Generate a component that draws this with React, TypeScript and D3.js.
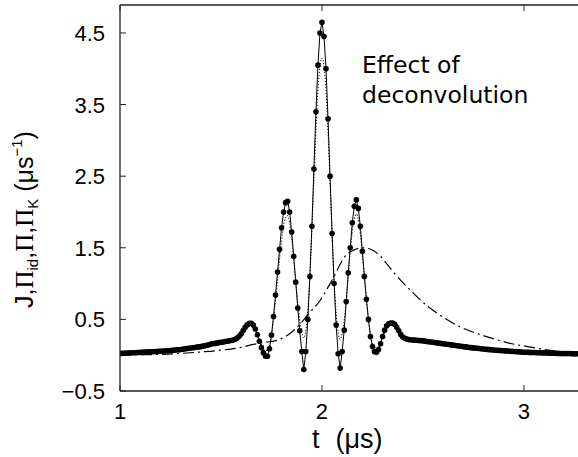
import React from "react";
import * as d3 from "d3";

// ---- data ----
const xTicks = [1, 2, 3];
const yTicks = [-0.5, 0.5, 1.5, 2.5, 3.5, 4.5];
const xTickLabels = ["1", "2", "3"];
const yTickLabels = ["\u22120.5", "0.5", "1.5", "2.5", "3.5", "4.5"];

// J(t), sampled every 0.01 µs from t = 1.00
const jStart = 1.0;
const jStep = 0.01;
const jValues = [
  0.025, 0.026, 0.028, 0.029, 0.031, 0.032, 0.034, 0.035, 0.037, 0.038,
  0.040, 0.041, 0.043, 0.044, 0.046, 0.047, 0.049, 0.050, 0.052, 0.053,
  0.055, 0.057, 0.059, 0.061, 0.063, 0.065, 0.068, 0.071, 0.074, 0.077,
  0.080, 0.084, 0.088, 0.092, 0.096, 0.100, 0.104, 0.108, 0.112, 0.116,
  0.120, 0.126, 0.132, 0.138, 0.146, 0.155, 0.160, 0.165, 0.170, 0.175,
  0.180, 0.185, 0.190, 0.195, 0.200, 0.205, 0.212, 0.222, 0.240, 0.265,
  0.300, 0.345, 0.390, 0.425, 0.445, 0.445, 0.420, 0.365, 0.285, 0.195,
  0.105, 0.035, -0.010, -0.015, 0.090, 0.280, 0.540, 0.840, 1.160, 1.480,
  1.780, 2.000, 2.130, 2.150, 2.000, 1.720, 1.380, 1.020, 0.660, 0.340,
  0.050, -0.200, 0.050, 0.500, 1.100, 1.800, 2.600, 3.400, 4.050, 4.500,
  4.650, 4.450, 4.000, 3.300, 2.500, 1.700, 1.000, 0.420, 0.020, -0.180,
  0.050, 0.350, 0.750, 1.150, 1.500, 1.850, 2.080, 2.170, 2.050, 1.800,
  1.450, 1.100, 0.780, 0.500, 0.260, 0.120, 0.050, 0.040, 0.080, 0.160,
  0.260, 0.350, 0.410, 0.440, 0.450, 0.450, 0.430, 0.390, 0.340, 0.290,
  0.255, 0.235, 0.225, 0.218, 0.214, 0.212, 0.210, 0.208, 0.206, 0.204,
  0.200, 0.196, 0.192, 0.188, 0.184, 0.180, 0.176, 0.172, 0.168, 0.164,
  0.160, 0.156, 0.152, 0.148, 0.144, 0.140, 0.136, 0.132, 0.128, 0.124,
  0.120, 0.116, 0.112, 0.108, 0.105, 0.102, 0.099, 0.096, 0.093, 0.090,
  0.087, 0.084, 0.081, 0.078, 0.075, 0.072, 0.070, 0.068, 0.066, 0.064,
  0.062, 0.060, 0.058, 0.056, 0.054, 0.052, 0.050, 0.048, 0.046, 0.044,
  0.042, 0.041, 0.040, 0.039, 0.038, 0.037, 0.036, 0.035, 0.034, 0.033,
  0.032, 0.031, 0.030, 0.029, 0.028, 0.027, 0.026, 0.025, 0.024, 0.024,
  0.023, 0.023, 0.022, 0.022, 0.021, 0.021, 0.020, 0.020,
];

// dotted curve
const dotT = [
  1.0, 1.2, 1.4, 1.5, 1.55, 1.6, 1.63, 1.65, 1.67, 1.7, 1.72, 1.74, 1.76, 1.78,
  1.8, 1.82, 1.83, 1.84, 1.86, 1.88, 1.9, 1.91, 1.92, 1.94, 1.96, 1.98, 2.0,
  2.02, 2.04, 2.06, 2.08, 2.09, 2.1, 2.12, 2.14, 2.16, 2.17, 2.18, 2.2, 2.22,
  2.24, 2.26, 2.28, 2.3, 2.33, 2.35, 2.38, 2.42, 2.5, 2.7, 3.0, 3.27,
];
const dotV = [
  0.02, 0.05, 0.11, 0.17, 0.2, 0.28, 0.38, 0.41, 0.36, 0.15, 0.06, 0.12, 0.5,
  1.05, 1.6, 1.92, 1.95, 1.85, 1.35, 0.75, 0.32, 0.24, 0.35, 1.1, 2.45, 3.7,
  4.15, 3.7, 2.4, 1.05, 0.32, 0.22, 0.3, 0.75, 1.45, 1.9, 1.97, 1.9, 1.4, 0.78,
  0.3, 0.1, 0.12, 0.25, 0.4, 0.42, 0.34, 0.22, 0.19, 0.115, 0.04, 0.02,
];

// dash-dot curve
const ddT = [
  1.0, 1.1, 1.2, 1.3, 1.4, 1.5, 1.6, 1.66, 1.72, 1.78, 1.84, 1.89, 1.94, 1.99,
  2.03, 2.06, 2.09, 2.12, 2.16, 2.2, 2.24, 2.28, 2.32, 2.36, 2.44, 2.52, 2.6,
  2.68, 2.76, 2.85, 2.94, 3.02, 3.1, 3.18, 3.27,
];
const ddV = [
  0.0, 0.005, 0.012, 0.025, 0.045, 0.07, 0.11, 0.15, 0.18, 0.21, 0.3, 0.43, 0.6,
  0.76, 0.95, 1.1, 1.27, 1.4, 1.47, 1.5, 1.48, 1.41, 1.28, 1.14, 0.9, 0.69,
  0.53, 0.4, 0.31, 0.23, 0.16, 0.12, 0.08, 0.05, 0.03,
];

const W = 578;
const H = 457;

export default function App() {
  const left = 120;
  const top = 5;
  const bottom = 391;
  const x = d3.scaleLinear().domain([1, 3.27]).range([left, 578.5]);
  const y = d3.scaleLinear().domain([-0.5, 4.89]).range([bottom, top]);

  const jPts: [number, number][] = jValues.map((v, i) => [jStart + i * jStep, v]);
  const dotPts: [number, number][] = dotT.map((t, i) => [t, dotV[i]]);
  const ddPts: [number, number][] = ddT.map((t, i) => [t, ddV[i]]);

  const lin = d3
    .line<[number, number]>()
    .x((d) => x(d[0]))
    .y((d) => y(d[1]));
  const smooth = d3
    .line<[number, number]>()
    .x((d) => x(d[0]))
    .y((d) => y(d[1]))
    .curve(d3.curveMonotoneX);

  const axisColor = "#222";
  const tickFont = "'Liberation Sans', Arial, sans-serif";

  return (
    <svg
      width={W}
      height={H}
      style={{ position: "absolute", left: 0, top: 0, background: "#fff" }}
    >
      <defs>
        <clipPath id="plot">
          <rect x={left} y={top} width={W - left} height={bottom - top} />
        </clipPath>
      </defs>
      <rect x={0} y={0} width={W} height={H} fill="#fff" />

      <g clipPath="url(#plot)">
        <path
          d={smooth(ddPts) || ""}
          fill="none"
          stroke="#000"
          strokeWidth={1.2}
          strokeDasharray="11,4,2,4"
        />
        <path
          d={smooth(dotPts) || ""}
          fill="none"
          stroke="#000"
          strokeWidth={1}
          strokeDasharray="1.2,1.8"
        />
        <path d={lin(jPts) || ""} fill="none" stroke="#000" strokeWidth={1} />
        {jPts.map((d, i) => (
          <circle key={i} cx={x(d[0])} cy={y(d[1])} r={2.8} fill="#000" />
        ))}
      </g>

      {/* axes frame */}
      <line x1={left} y1={top} x2={left} y2={bottom} stroke={axisColor} strokeWidth={1.3} />
      <line x1={left} y1={bottom} x2={W} y2={bottom} stroke={axisColor} strokeWidth={1.3} />
      <line x1={left} y1={top} x2={W} y2={top} stroke={axisColor} strokeWidth={1.3} />

      {/* x ticks */}
      {xTicks.map((t, i) => (
        <g key={"xt" + i}>
          <line x1={x(t)} x2={x(t)} y1={bottom} y2={bottom - 6} stroke={axisColor} strokeWidth={1} />
          <line x1={x(t)} x2={x(t)} y1={top} y2={top + 6} stroke={axisColor} strokeWidth={1} />
          <text
            x={x(t)}
            y={419}
            textAnchor="middle"
            fontFamily={tickFont}
            fontSize={22}
            fill="#000"
          >
            {xTickLabels[i]}
          </text>
        </g>
      ))}

      {/* y ticks */}
      {yTicks.map((t, i) => (
        <g key={"yt" + i}>
          <line x1={left} x2={left + 6} y1={y(t)} y2={y(t)} stroke={axisColor} strokeWidth={1} />
          <text
            x={105}
            y={y(t) + 8}
            textAnchor="end"
            fontFamily={tickFont}
            fontSize={22}
            fill="#000"
          >
            {yTickLabels[i]}
          </text>
        </g>
      ))}

      {/* x label */}
      <text x={312} y={448} fontFamily={tickFont} fontSize={27} fill="#000">
        <tspan>t</tspan>
        <tspan dx={16}>(μs)</tspan>
      </text>

      {/* y label */}
      <text
        transform="translate(33,308) rotate(-90)"
        fontFamily={tickFont}
        fontSize={25}
        fill="#000"
      >
        <tspan>J,</tspan>
        <tspan fontFamily="'Liberation Serif', serif">Π</tspan>
        <tspan fontSize={15} dy={5}>id</tspan>
        <tspan dy={-5}>,</tspan>
        <tspan fontFamily="'Liberation Serif', serif">Π</tspan>
        <tspan>,</tspan>
        <tspan fontFamily="'Liberation Serif', serif">Π</tspan>
        <tspan fontSize={15} dy={5}>K</tspan>
        <tspan dy={-5}> (μs</tspan>
        <tspan fontSize={15} dy={-11}>−1</tspan>
        <tspan dy={11}>)</tspan>
      </text>

      {/* annotation */}
      <text x={362} y={73} fontFamily="'DejaVu Sans', Verdana, sans-serif" fontSize={23.5} fill="#000">
        Effect of
      </text>
      <text x={362} y={103} fontFamily="'DejaVu Sans', Verdana, sans-serif" fontSize={23.5} fill="#000">
        deconvolution
      </text>
    </svg>
  );
}
